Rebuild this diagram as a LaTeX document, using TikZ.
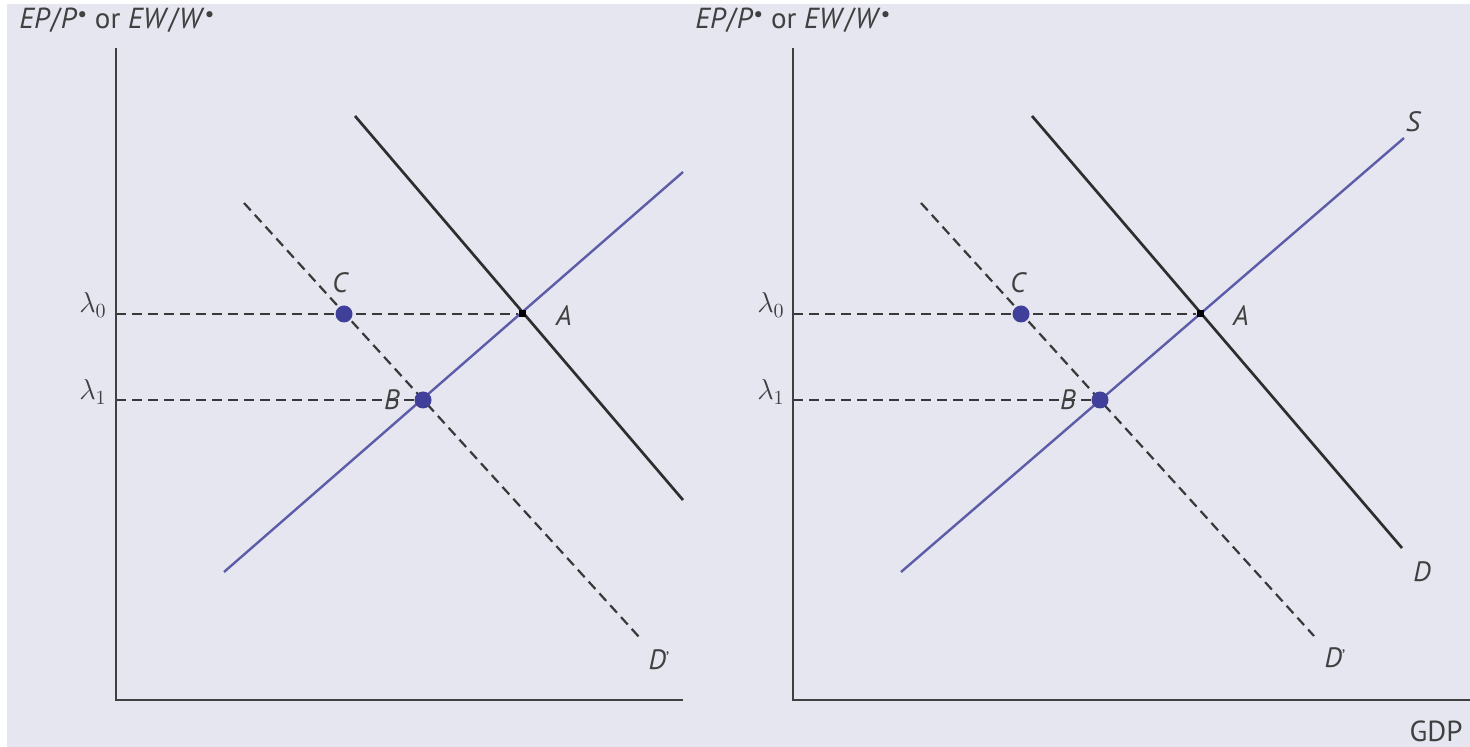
\documentclass[tikz,border=0pt]{standalone}
\usepackage{fontspec}
\setmainfont{PT Sans}
\begin{document}
\begin{tikzpicture}[x=0.5pt,y=-0.5pt,
  axis/.style={draw=black!75,line width=1pt},
  dline/.style={draw=black!82,line width=1.35pt},
  sline/.style={draw=supblue,line width=1.2pt},
  dashline/.style={draw=black!78,line width=1.1pt,dash pattern=on 5pt off 3pt},
  eqdot/.style={circle,fill=dotblue,inner sep=0pt,minimum size=8.5pt},
  eqsq/.style={rectangle,fill=black,inner sep=0pt,minimum size=3.5pt},
  lbl/.style={font=\fontsize{14}{16}\selectfont\itshape,text=black!75,inner sep=0pt},
  ylbl/.style={font=\fontsize{14.5}{16}\selectfont,text=black!75,inner sep=0pt},
  lam/.style={font=\fontsize{14}{16}\selectfont,text=black!75,inner sep=0pt}
]
\definecolor{bgc}{HTML}{E6E6F1}
\definecolor{supblue}{HTML}{5C5CA8}
\definecolor{dotblue}{HTML}{40409A}
\useasboundingbox (0,0) rectangle (1470,747);
\fill[bgc] (7,4) rectangle (1470,747);
\newcommand{\ystar}{\raisebox{0.45ex}{\fontsize{11}{11}\selectfont\upshape •}}
\newcommand{\dprime}{\textit{D}\raisebox{0.35ex}{\fontsize{9}{9}\selectfont\upshape '}}
% ---------- left panel ----------
\coordinate (Ltop) at (116,48);
\coordinate (Lo) at (116,700);
\coordinate (Lx) at (683,700);
\coordinate (Ll0) at (116,314);
\coordinate (Ll1) at (116,400);
\coordinate (LS1) at (224,572);
\coordinate (LS2) at (683,172);
\coordinate (LD1) at (355,116);
\coordinate (LD2) at (683,500);
\coordinate (LDp1) at (244,203);
\coordinate (LDp2) at (640,638);
\node[eqsq] (LA) at (522,314) {};
\draw[dashline] (Ll0) -- (LA);
\draw[dashline] (Ll1) -- (423,400) coordinate (LBc);
\draw[dashline] (LDp1) -- (LDp2);
\draw[dline] (LD1) -- (LD2);
\draw[sline] (LS1) -- (LS2);
\draw[axis] (Ltop) -- (Lo) -- (Lx);
\node[eqsq] at (LA) {};
\node[eqdot] (LC) at (344,314) {};
\node[eqdot] (LB) at (LBc) {};
\node[ylbl] (Ly) at (117,20) {\textit{EP}/\textit{P}\ystar{} or \textit{EW}/\textit{W}\ystar};
\node[lam] (Ll0t) at (93,305) {$\lambda_0$};
\node[lam] (Ll1t) at (93,392) {$\lambda_1$};
\node[lbl] (LCt) at (340,283) {C};
\node[lbl] (LAt) at (564,316) {A};
\node[lbl] (LBt) at (392,400) {B};
\node[lbl] (LDpt) at (659,660) {\dprime};
% ---------- right panel ----------
\coordinate (Rtop) at (793,48);
\coordinate (Ro) at (793,700);
\coordinate (Rx) at (1470,700);
\coordinate (Rl0) at (793,314);
\coordinate (Rl1) at (793,400);
\coordinate (RS1) at (901,572);
\coordinate (RS2) at (1404,138);
\coordinate (RD1) at (1032,116);
\coordinate (RD2) at (1402,548);
\coordinate (RDp1) at (921,203);
\coordinate (RDp2) at (1314,636);
\node[eqsq] (RA) at (1200,314) {};
\draw[dashline] (Rl0) -- (RA);
\draw[dashline] (Rl1) -- (1100,400) coordinate (RBc);
\draw[dashline] (RDp1) -- (RDp2);
\draw[dline] (RD1) -- (RD2);
\draw[sline] (RS1) -- (RS2);
\draw[axis] (Rtop) -- (Ro) -- (Rx);
\node[eqsq] at (RA) {};
\node[eqdot] (RC) at (1021,314) {};
\node[eqdot] (RB) at (RBc) {};
\node[ylbl] (Ry) at (793,20) {\textit{EP}/\textit{P}\ystar{} or \textit{EW}/\textit{W}\ystar};
\node[lam] (Rl0t) at (771,305) {$\lambda_0$};
\node[lam] (Rl1t) at (771,392) {$\lambda_1$};
\node[lbl] (RCt) at (1018,283) {C};
\node[lbl] (RAt) at (1241,316) {A};
\node[lbl] (RBt) at (1068,400) {B};
\node[lbl] (RSt) at (1413,122) {S};
\node[lbl] (RDt) at (1422,572) {D};
\node[lbl] (RDpt) at (1335,658) {\dprime};
\node[ylbl] (gdp) at (1436,731) {GDP};
\end{tikzpicture}
\end{document}
